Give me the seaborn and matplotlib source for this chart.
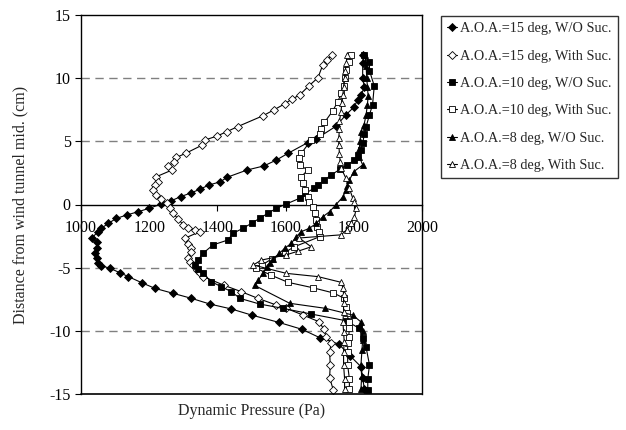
import matplotlib
matplotlib.use("Agg")
import matplotlib.pyplot as plt
import seaborn as sns
import pandas as pd

# ---------------- data ----------------
labels = ["A.O.A.=15 deg, W/O Suc.", "A.O.A.=15 deg, With Suc.",
          "A.O.A.=10 deg, W/O Suc.", "A.O.A.=10 deg, With Suc.",
          "A.O.A.=8 deg, W/O Suc.", "A.O.A.=8 deg, With Suc."]

# A.O.A. = 15 deg, without suction
p15_wo = [1828, 1826, 1826, 1831, 1822, 1812, 1800, 1777, 1748, 1690, 1665, 1607, 1573, 1536, 1487,
          1428, 1409, 1375, 1348, 1324, 1292, 1265, 1236, 1200, 1168, 1134, 1104, 1080, 1060, 1050,
          1031, 1046, 1046, 1041, 1046, 1051, 1060, 1085, 1114, 1139, 1178, 1217, 1270, 1324, 1378,
          1441, 1500, 1580, 1648, 1700, 1756, 1790, 1821, 1826, 1831]
y15_wo = [11.8, 11.2, 10.0, 9.3, 8.7, 8.3, 7.7, 7.1, 6.2, 5.2, 4.9, 4.05, 3.52, 3.05, 2.73,
          2.15, 1.8, 1.54, 1.2, 0.93, 0.62, 0.3, 0.04, -0.3, -0.57, -0.83, -1.1, -1.49, -1.88, -2.14,
          -2.68, -2.94, -3.47, -3.87, -4.26, -4.66, -4.85, -5.05, -5.4, -5.71, -6.19, -6.64, -7.03, -7.43, -7.88,
          -8.27, -8.75, -9.33, -9.88, -10.54, -11.05, -12.0, -12.84, -13.7, -14.63]

# A.O.A. = 15 deg, with suction
p15_w = [1736, 1721, 1709, 1695, 1668, 1641, 1618, 1597, 1565, 1534, 1459, 1428, 1399, 1363, 1356,
         1307, 1280, 1274, 1256, 1267, 1221, 1226, 1217, 1212, 1220, 1235, 1251, 1260, 1270, 1285,
         1300, 1314, 1334, 1348, 1304, 1314, 1324, 1324, 1314, 1319, 1329, 1340, 1348, 1358, 1420,
         1470, 1519, 1573, 1602, 1651, 1698, 1712, 1719, 1734, 1729, 1731, 1729, 1740]
y15_w = [11.84, 11.4, 11.05, 10.04, 9.38, 8.67, 8.33, 7.96, 7.48, 7.03, 6.16, 5.77, 5.42, 5.1, 4.71,
         4.05, 3.73, 3.4, 3.05, 2.73, 2.2, 1.8, 1.54, 1.15, 0.75, 0.4, 0.09, -0.3, -0.7, -1.14,
         -1.62, -1.88, -2.0, -2.15, -2.68, -3.09, -3.47, -3.75, -4.26, -4.53, -4.8, -5.2, -5.45, -5.7, -6.4,
         -6.9, -7.43, -7.96, -8.22, -8.75, -9.28, -9.86, -10.47, -10.99, -11.65, -12.71, -13.7, -14.69]

# A.O.A. = 10 deg, without suction
p10_wo = [1831, 1846, 1846, 1860, 1855, 1846, 1836, 1831, 1826, 1821, 1812, 1802, 1780, 1760, 1734,
          1714, 1695, 1683, 1658, 1641, 1602, 1573, 1548, 1524, 1500, 1475, 1446, 1431, 1387, 1358,
          1343, 1334, 1343, 1358, 1382, 1411, 1441, 1466, 1524, 1592, 1675, 1777, 1816, 1826, 1836,
          1846, 1841, 1841]
y10_wo = [11.84, 11.3, 10.6, 9.38, 7.9, 7.1, 6.15, 5.6, 4.84, 4.3, 3.9, 3.5, 3.13, 2.8, 2.34,
          1.94, 1.54, 1.28, 0.88, 0.49, 0.04, -0.3, -0.7, -1.09, -1.49, -1.88, -2.28, -2.81, -3.2, -3.86,
          -4.4, -4.79, -5.1, -5.45, -6.11, -6.5, -6.9, -7.43, -7.88, -8.22, -8.67, -9.2, -9.8, -10.6, -11.3,
          -12.7, -13.8, -14.69]

# A.O.A. = 10 deg, with suction
p10_w = [1792, 1787, 1777, 1773, 1770, 1763, 1753, 1738, 1714, 1704, 1700, 1675, 1646, 1638, 1641,
         1665, 1646, 1651, 1658, 1665, 1670, 1680, 1685, 1690, 1692, 1698, 1700, 1626, 1597, 1560,
         1530, 1514, 1558, 1607, 1680, 1740, 1770, 1777, 1780, 1785, 1787, 1785, 1782, 1782, 1782,
         1787, 1787]
y10_w = [11.84, 11.3, 10.65, 10.0, 9.4, 8.8, 8.14, 7.4, 6.5, 6.0, 5.6, 5.1, 4.05, 3.66, 3.13,
         2.73, 2.2, 1.68, 1.15, 0.62, 0.22, -0.17, -0.7, -1.22, -1.75, -2.15, -2.55, -3.34, -3.8, -4.3,
         -4.8, -5.05, -5.6, -6.16, -6.59, -7.0, -7.4, -8.09, -8.6, -9.3, -9.8, -10.5, -11.0, -11.65, -12.7,
         -13.8, -14.63]

# A.O.A. = 8 deg, without suction
p8_wo = [1833, 1836, 1838, 1840, 1842, 1840, 1836, 1830, 1821, 1818, 1816, 1816, 1826, 1800, 1787,
         1780, 1777, 1768, 1748, 1729, 1709, 1690, 1670, 1646, 1631, 1617, 1597, 1582, 1563, 1553,
         1545, 1534, 1520, 1509, 1612, 1717, 1797, 1821, 1826, 1826, 1824, 1821, 1823, 1821]
y8_wo = [11.8, 11.0, 10.0, 9.3, 8.6, 7.9, 7.1, 6.3, 5.77, 5.0, 4.4, 3.79, 3.13, 2.6, 1.94,
         1.5, 1.15, 0.6, 0.0, -0.57, -0.97, -1.49, -1.88, -2.15, -2.55, -3.07, -3.47, -3.86, -4.3, -4.6,
         -4.92, -5.45, -5.98, -6.4, -7.82, -8.22, -8.75, -9.3, -10.0, -10.7, -11.5, -12.7, -13.6, -14.63]

# A.O.A. = 8 deg, with suction
p8_w = [1780, 1778, 1775, 1773, 1770, 1768, 1765, 1762, 1758, 1758, 1756, 1756, 1758, 1760, 1763,
        1777, 1787, 1797, 1802, 1807, 1802, 1792, 1779, 1763, 1640, 1675, 1636, 1600, 1529, 1505,
        1602, 1695, 1763, 1768, 1770, 1770, 1770, 1768, 1770, 1772, 1770, 1770, 1773, 1773]
y8_w = [11.84, 11.2, 10.6, 10.0, 9.3, 8.67, 8.0, 7.3, 6.6, 6.0, 5.3, 4.71, 4.0, 3.4, 2.87,
        2.07, 1.28, 0.49, 0.2, -0.3, -0.97, -1.49, -2.0, -2.4, -2.65, -3.35, -3.7, -4.0, -4.4, -4.79,
        -5.45, -5.71, -6.16, -6.6, -7.1, -7.82, -8.5, -9.3, -10.07, -10.9, -11.65, -12.7, -13.8, -14.63]

x_ticks = [1000, 1200, 1400, 1600, 1800, 2000]
y_ticks = [-15, -10, -5, 0, 5, 10, 15]
grid_levels = [-10, -5, 5, 10]

# ---------------- styling ----------------
sns.set_theme(style="white")
plt.rcParams["font.family"] = ["Liberation Serif", "DejaVu Serif"]
plt.rcParams["font.size"] = 11.5

fig = plt.figure(figsize=(6.26, 4.30), dpi=100)
ax = fig.add_axes([81 / 626, 1 - 394 / 430, (422 - 81) / 626, (394 - 15) / 430])

series = [
    (p15_wo, y15_wo, "D", "black", 3.8),
    (p15_w, y15_w, "D", "white", 3.8),
    (p10_wo, y10_wo, "s", "black", 4.3),
    (p10_w, y10_w, "s", "white", 4.3),
    (p8_wo, y8_wo, "^", "black", 4.7),
    (p8_w, y8_w, "^", "white", 4.7),
]

for lab, (px, py, mk, fc, ms) in zip(labels, series):
    df = pd.DataFrame({"p": px, "y": py})
    sns.lineplot(data=df, x="p", y="y", sort=False, estimator=None, ax=ax,
                 color="black", linewidth=0.8, marker=mk, markersize=ms,
                 markerfacecolor=fc, markeredgecolor="black", markeredgewidth=0.6,
                 label=lab, zorder=3)

for g in grid_levels:
    ax.axhline(g, color="#808080", linewidth=1.0, linestyle=(0, (6, 4)), zorder=1)

ax.set_xlim(1000, 2000)
ax.set_ylim(-15, 15)
ax.set_xticks(x_ticks)
ax.set_yticks(y_ticks)
ax.set_xticklabels([str(t) for t in x_ticks])
ax.set_yticklabels([str(t) for t in y_ticks])

for s in ["left", "right", "top"]:
    ax.spines[s].set_visible(True)
    ax.spines[s].set_color("black")
    ax.spines[s].set_linewidth(1.0)
ax.spines["bottom"].set_position(("data", 0))
ax.spines["bottom"].set_color("black")
ax.spines["bottom"].set_linewidth(1.0)
ax.axhline(-15, color="black", linewidth=1.2, clip_on=False, zorder=4)

ax.tick_params(axis="both", direction="out", length=4, width=0.8, colors="black",
               labelsize=11.5, bottom=True, left=True)
ax.tick_params(axis="x", pad=7)

ax.set_xlabel("")
ax.set_ylabel("Distance from wind tunnel mid. (cm)", fontsize=11.5, labelpad=15)
ax.text(0.5, -0.046, "Dynamic Pressure (Pa)", transform=ax.transAxes,
        ha="center", va="center", fontsize=11.5)

leg = ax.legend(loc="upper left", bbox_to_anchor=(441 / 626, 1 - 16 / 430),
                bbox_transform=fig.transFigure, frameon=True, fancybox=False,
                edgecolor="black", handlelength=0.7, handletextpad=0.15,
                labelspacing=1.0, borderpad=0.45, fontsize=10.3, borderaxespad=0)
leg.get_frame().set_linewidth(1.0)

fig.savefig("out.png", dpi=100)
